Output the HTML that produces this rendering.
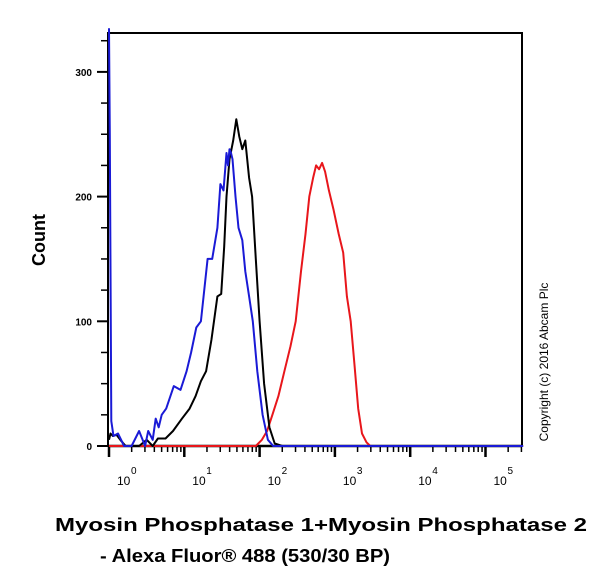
<!DOCTYPE html>
<html><head><meta charset="utf-8"><style>
body{margin:0;background:#fff;}
svg{display:block;font-family:"Liberation Sans",Arial,sans-serif;}
</style></head><body>
<svg id="chart" width="600" height="581" viewBox="0 0 600 581">
<rect x="108" y="33" width="414" height="413" fill="#fff" stroke="#000" stroke-width="2"/>
<g id="axes"></g>
<g id="series"></g>
<text x="45" y="240" transform="rotate(-90 45 240)" text-anchor="middle" font-size="18" font-weight="bold">Count</text>
<text x="548" y="362" transform="rotate(-90 548 362)" text-anchor="middle" font-size="12">Copyright (c) 2016 Abcam Plc</text>
<text x="55" y="531" font-size="18" font-weight="bold" textLength="532" lengthAdjust="spacingAndGlyphs">Myosin Phosphatase 1+Myosin Phosphatase 2</text>
<text x="100" y="562" font-size="18" font-weight="bold" textLength="290" lengthAdjust="spacingAndGlyphs">- Alexa Fluor® 488 (530/30 BP)</text>
</svg>
<script>
const yTicks=[0,100,200,300];
const xDecades=[0,1,2,3,4,5];
const blackLog=[0,0.02,0.05,0.1,0.15,0.22,0.3,0.4,0.5,0.58,0.65,0.75,0.85,0.97,1.07,1.15,1.22,1.29,1.36,1.44,1.49,1.53,1.56,1.6,1.65,1.69,1.73,1.77,1.81,1.86,1.9,1.95,2.0,2.06,2.13,2.2,2.3,5.5];
const blackCnt=[5,10,8,9,5,0,0,0,5,0,6,6,12,22,30,40,52,60,85,120,122,160,200,230,245,262,248,238,245,215,200,150,100,50,15,2,0,0];
const blueLog=[0,0.01,0.03,0.06,0.12,0.2,0.3,0.4,0.48,0.52,0.58,0.62,0.66,0.7,0.76,0.86,0.95,1.03,1.09,1.16,1.22,1.31,1.37,1.44,1.48,1.52,1.56,1.58,1.6,1.62,1.64,1.68,1.72,1.77,1.81,1.86,1.91,1.97,2.04,2.11,2.18,5.5];
const blueCnt=[335,250,20,8,10,0,0,12,0,12,5,22,15,25,30,48,45,60,75,95,100,150,150,175,210,205,235,225,238,235,230,200,175,165,140,120,100,60,25,5,0,0];
const redLog=[0,1.95,2.03,2.1,2.17,2.25,2.33,2.41,2.48,2.55,2.61,2.66,2.71,2.75,2.79,2.83,2.87,2.92,2.98,3.05,3.11,3.16,3.21,3.26,3.31,3.36,3.42,3.47,5.5];
const redCnt=[0,0,5,12,25,40,60,80,100,140,170,200,215,225,222,227,220,205,190,170,155,120,100,65,30,10,3,0,0];

const X0=109,DEC=75.3,Y0=446,YS=124.7/100;
const sx=v=>X0+v*DEC, sy=c=>Y0-c*YS;
const NS='http://www.w3.org/2000/svg';
const ax=document.getElementById('axes'), sr=document.getElementById('series');
function mk(tag,attrs,parent){const e=document.createElementNS(NS,tag);for(const k in attrs)e.setAttribute(k,attrs[k]);parent.appendChild(e);return e;}
for(let v=0;v<=325;v+=25){
  const l=mk('line',{x1:v%100===0?97:101,x2:108,y1:sy(v),y2:sy(v),stroke:'#000','stroke-width':v%100===0?2:1.5},ax);
  
  
}
yTicks.forEach(v=>{
  const t=mk('text',{x:92,y:sy(v)+4,'text-anchor':'end','font-size':10,'font-weight':'bold'},ax);
  t.textContent=v;
  
  
});
for(let d=0;d<=5;d++){
  for(let m=1;m<10;m++){
    const lv=d+Math.log10(m);
    if(sx(lv)>522)continue;
    const major=m===1;
    const l=mk('line',{x1:sx(lv),x2:sx(lv),y1:446,y2:major?457:452,stroke:'#000','stroke-width':major?2.5:1.5},ax);
    
    
  }
}
mk('line',{x1:108,x2:522,y1:446,y2:446,stroke:'#000','stroke-width':2.5},ax);
xDecades.forEach(d=>{
  const t=mk('text',{x:sx(d)+8,y:485,'font-size':12},ax);
  t.textContent='10';
  
  
  const s=mk('text',{x:sx(d)+22,y:474,'font-size':10},ax);
  s.textContent=d;
  
  
});
function line(xs,ys,color,name){
  const d=xs.map((v,i)=>(i?'L':'M')+sx(v).toFixed(1)+','+sy(ys[i]).toFixed(1)).join('');
  const p=mk('path',{d:d,fill:'none',stroke:color,'stroke-width':2,'stroke-linejoin':'round'},sr);
  
  
}
line(redLog,redCnt,'#e8161b','red-histogram');
line(blackLog,blackCnt,'#000','black-histogram');
line(blueLog,blueCnt,'#1a1ad6','blue-histogram');
</script>
</body></html>
